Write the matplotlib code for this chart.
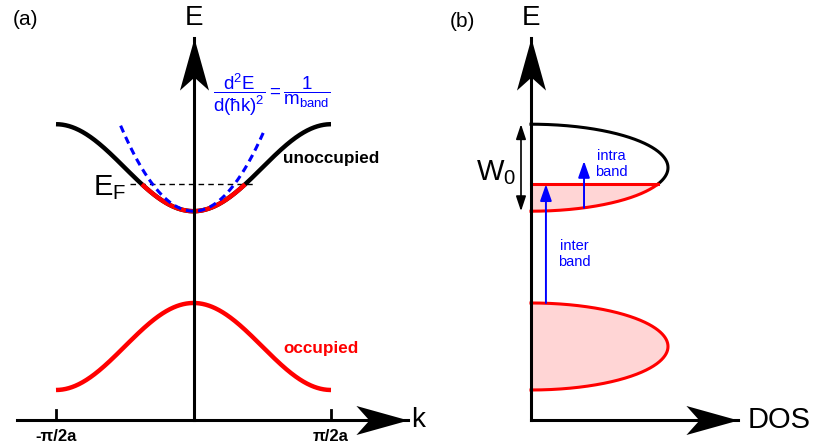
import numpy as np
import matplotlib
matplotlib.use('Agg')
import matplotlib.pyplot as plt
from matplotlib.path import Path

plt.rcParams['font.family'] = ['Liberation Sans', 'DejaVu Sans']
plt.rcParams['mathtext.fontset'] = 'custom'
plt.rcParams['mathtext.rm'] = 'Liberation Sans'
plt.rcParams['mathtext.it'] = 'Liberation Sans:italic'
plt.rcParams['mathtext.bf'] = 'Liberation Sans:bold'
plt.rcParams['mathtext.default'] = 'regular'

# Parametros de las bandas (energia en unidades del ancho de banda W0)
k_edge = 1.0            # k en unidades de pi/2a
band_width = 1.0
upper_center = 2.90     # banda de conduccion (parcialmente llena)
lower_center = 0.845    # banda de valencia (llena)
E_F = 2.71
mass_curv = 3.5         # curvatura de la parabola de masa efectiva
parab_k = [-0.53, 0.51]
fermi_k = [-0.46, 0.43]
dos_max = 1.0

k_ticks = [-1.0, 1.0]
k_tick_labels = ['-π/2a', 'π/2a']

# flechas de los ejes
k_axis = [-1.284, 1.56]
E_axis_top = 4.39
dos_axis_tip = 1.511

# flechas de transicion (b)
inter_dos = 0.109
intra_dos = 0.387
intra_top = 2.977
w0_dos = -0.073

RED = '#ff0000'
PINK = '#ffd5d5'
BLUE = '#0000ff'


def arrow_marker(direction):
    """Punta de flecha con muesca (punta en el origen)."""
    v = np.array([[0, 0], [-14.5, -52], [0, -39], [14.5, -52], [0, 0]], dtype=float)
    if direction == 'right':
        v = np.column_stack([v[:, 1], -v[:, 0]])
    codes = [Path.MOVETO, Path.LINETO, Path.LINETO, Path.LINETO, Path.CLOSEPOLY]
    return Path(v, codes)


def draw_head(ax, x, y, direction):
    ax.plot([x], [y], marker=arrow_marker(direction), ms=75, color='black',
            mew=0, zorder=5)


fig = plt.figure(figsize=(8.13, 4.48), dpi=100)
ylim = (-0.3218, 4.8276)

# ---------------- (a) estructura de bandas ----------------
ax1 = fig.add_axes([0, 0, 420 / 813, 1])
ax1.set_xlim(-1.4073, 1.6473)
ax1.set_ylim(*ylim)
ax1.axis('off')

k = np.linspace(-k_edge, k_edge, 600)
E_up = upper_center - band_width / 2 * np.cos(np.pi * k / k_edge)
E_low = lower_center + band_width / 2 * np.cos(np.pi * k / k_edge)

ax1.plot(k, E_up, color='black', lw=3.2, solid_capstyle='butt', zorder=2)
ax1.plot(k, np.where(E_up <= E_F, E_up, np.nan), color=RED, lw=3.2,
         solid_capstyle='butt', zorder=3)
ax1.plot(k, E_low, color=RED, lw=3.2, solid_capstyle='butt', zorder=2)

kp = np.linspace(parab_k[0], parab_k[1], 200)
Ep = upper_center - band_width / 2 + mass_curv * kp ** 2
ax1.plot(kp, Ep, color=BLUE, lw=2.2, ls=(0, (2.4, 1.6)), zorder=4)

ax1.plot(fermi_k, [E_F, E_F], color='black', lw=1.0, ls=(0, (4, 3)), zorder=1)

# ejes
ax1.plot(k_axis, [0, 0], color='black', lw=2.2, zorder=4)
ax1.plot([0, 0], [0, E_axis_top], color='black', lw=2.2, zorder=4)
draw_head(ax1, k_axis[1], 0, 'right')
draw_head(ax1, 0, E_axis_top, 'up')
for kt, lab in zip(k_ticks, k_tick_labels):
    ax1.plot([kt, kt], [0, 0.115], color='black', lw=2.0)
    ax1.text(kt, -0.195, lab, ha='center', va='center', fontsize=12,
             fontweight='bold')

ax1.text(0, 4.62, 'E', ha='center', va='center', fontsize=20)
ax1.text(1.633, 0.0, 'k', ha='center', va='center', fontsize=20)
ax1.text(-1.225, 4.60, '(a)', ha='center', va='center', fontsize=15)
ax1.text(-0.731, 2.586, r'$E_F$', ha='left', va='baseline', fontsize=21)
ax1.text(0.651, 2.957, 'unoccupied', ha='left', va='baseline', fontsize=12.3,
         fontweight='bold')
ax1.text(0.651, 0.773, 'occupied', ha='left', va='baseline', fontsize=12.3,
         fontweight='bold', color=RED)
ax1.text(0.567, 3.74, r'$\dfrac{d^2E}{d(\hbar k)^2} = \dfrac{1}{m_{band}}$',
         ha='center', va='center', fontsize=13.5, color=BLUE)

# ---------------- (b) densidad de estados ----------------
ax2 = fig.add_axes([420 / 813, 0, 393 / 813, 1])
ax2.set_xlim(-0.8102, 2.0584)
ax2.set_ylim(*ylim)
ax2.axis('off')

half = band_width / 2
th_F = np.arcsin((E_F - upper_center) / half)
th_occ = np.linspace(-np.pi / 2, th_F, 300)
th_emp = np.linspace(th_F, np.pi / 2, 300)
th_all = np.linspace(-np.pi / 2, np.pi / 2, 600)

g_occ = dos_max * np.cos(th_occ)
E_occ = upper_center + half * np.sin(th_occ)
ax2.fill_betweenx(E_occ, 0, g_occ, color=PINK, lw=0, zorder=1)
ax2.plot(dos_max * np.cos(th_emp), upper_center + half * np.sin(th_emp),
         color='black', lw=2.2, zorder=2)
ax2.plot(g_occ, E_occ, color=RED, lw=2.2, zorder=3)
ax2.plot([0, dos_max * np.cos(th_F)], [E_F, E_F], color=RED, lw=2.2, zorder=3)

g_low = dos_max * np.cos(th_all)
E_lowb = lower_center + half * np.sin(th_all)
ax2.fill_betweenx(E_lowb, 0, g_low, color=PINK, lw=0, zorder=1)
ax2.plot(g_low, E_lowb, color=RED, lw=2.2, zorder=3)

# ejes
ax2.plot([0, dos_axis_tip], [0, 0], color='black', lw=2.2, zorder=4)
ax2.plot([0, 0], [0, E_axis_top], color='black', lw=2.2, zorder=4)
draw_head(ax2, dos_axis_tip, 0, 'right')
draw_head(ax2, 0, E_axis_top, 'up')

# W0
ax2.annotate('', xy=(w0_dos, upper_center + half), xytext=(w0_dos, upper_center - half),
             arrowprops=dict(arrowstyle='<|-|>,head_length=0.9,head_width=0.3',
                             mutation_scale=10, lw=1.2, color='black',
                             shrinkA=0, shrinkB=0))
ax2.text(-0.109, 2.759, r'$W_0$', ha='right', va='baseline', fontsize=21)

# transiciones
intra_start = upper_center - half * np.sqrt(1 - (intra_dos / dos_max) ** 2)
ax2.annotate('', xy=(inter_dos, E_F), xytext=(inter_dos, lower_center + half),
             arrowprops=dict(arrowstyle='-|>,head_length=1.0,head_width=0.35',
                             mutation_scale=10, lw=1.4, color=BLUE,
                             shrinkA=0, shrinkB=0), zorder=5)
ax2.annotate('', xy=(intra_dos, intra_top), xytext=(intra_dos, intra_start),
             arrowprops=dict(arrowstyle='-|>,head_length=1.0,head_width=0.35',
                             mutation_scale=10, lw=1.4, color=BLUE,
                             shrinkA=0, shrinkB=0), zorder=5)
ax2.text(0.584, 2.943, 'intra\nband', ha='center', va='center', fontsize=10.5,
         color=BLUE, linespacing=1.15)
ax2.text(0.314, 1.908, 'inter\nband', ha='center', va='center', fontsize=10.5,
         color=BLUE, linespacing=1.15)

ax2.text(0, 4.62, 'E', ha='center', va='center', fontsize=20)
ax2.text(-0.504, 4.575, '(b)', ha='center', va='center', fontsize=15)
ax2.text(1.584, 0.0, 'DOS', ha='left', va='center', fontsize=21)

fig.savefig('out.png', dpi=100)
